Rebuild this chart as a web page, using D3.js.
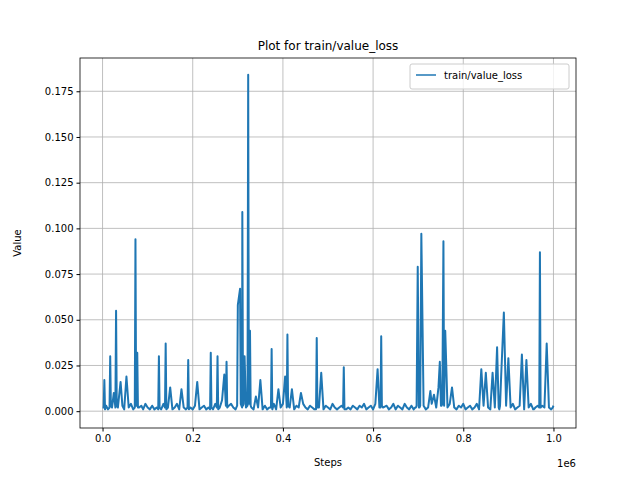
<!DOCTYPE html>
<html>
<head>
<meta charset="utf-8">
<script src="https://cdn.jsdelivr.net/npm/d3@7"></script>
<style>
body { margin: 0; background: #fff; }
text { font-family: "DejaVu Sans", sans-serif; }
</style>
</head>
<body>
<svg id="chart" width="640" height="480"></svg>
<script>
// steps in units of 1e6
const steps = [0, .004, .008, .012, .017, .021, .025, .03, .034, .04, .044, .048, .053, .058, .063, .068, .073, .077, .081, .086, .09, .095, .1, .105, .11, .115, .12, .125, .13, .135, .14, .145, .15, .155, .16, .165, .17, .175, .18, .185, .19, .195, .2, .205, .21, .215, .22, .225, .23, .235, .24, .245, .25, .255, .26, .265, .27, .275, .28, .285, .29, .295, .3, .305, .308, .31, .313, .315, .318, .323, .327, .33, .335, .34, .345, .35, .355, .36, .365, .37, .375, .38, .385, .39, .395, .4, .405, .41, .415, .42, .425, .43, .435, .44, .445, .45, .455, .46, .465, .47, .475, .48, .485, .49, .495, .5, .505, .51, .515, .52, .525, .53, .535, .54, .545, .55, .555, .56, .565, .57, .575, .58, .585, .59, .595, .6, .605, .61, .614, .618, .622, .63, .635, .64, .645, .65, .655, .66, .665, .67, .675, .68, .685, .69, .695, .699, .703, .707, .712, .717, .722, .727, .73, .735, .74, .745, .748, .752, .756, .76, .765, .77, .775, .78, .785, .79, .795, .8, .805, .81, .815, .82, .825, .83, .835, .84, .845, .85, .855, .86, .865, .87, .875, .88, .884, .89, .895, .9, .905, .91, .915, .92, .925, .93, .935, .94, .945, .95, .955, .96, .965, .97, .975, .98, .985, .99, .995, 1.0];
const values = [.002, .017, .003, .001, .03, .002, .01, .055, .002, .016, .003, .001, .019, .002, .004, .001, .094, .032, .002, .003, .001, .004, .002, .001, .003, .001, .002, .03, .001, .004, .037, .002, .013, .001, .002, .004, .001, .012, .002, .001, .028, .002, .001, .003, .016, .001, .002, .003, .001, .002, .032, .001, .004, .03, .002, .006, .02, .027, .003, .004, .002, .001, .058, .067, .003, .109, .004, .03, .002, .184, .044, .002, .001, .008, .002, .017, .001, .003, .001, .002, .034, .004, .001, .012, .002, .004, .019, .042, .002, .012, .001, .003, .002, .01, .004, .002, .001, .003, .002, .001, .04, .002, .021, .001, .003, .002, .001, .004, .002, .001, .002, .003, .024, .001, .002, .001, .003, .002, .001, .003, .002, .004, .001, .002, .003, .001, .004, .023, .002, .041, .002, .003, .001, .002, .004, .001, .003, .002, .001, .004, .002, .001, .003, .001, .002, .079, .002, .097, .003, .001, .002, .011, .004, .009, .002, .013, .027, .003, .093, .044, .002, .004, .013, .002, .001, .003, .002, .004, .001, .002, .003, .001, .002, .004, .001, .023, .003, .021, .002, .001, .021, .002, .035, .001, .019, .054, .003, .029, .002, .004, .001, .002, .003, .031, .001, .028, .002, .004, .001, .002, .003, .087, .003, .002, .037, .002, .001, .003, .002, .001, .002, .033];
// low readings logged close beside the spikes
const extraSteps = [.0025, .0055, .0155, .0185, .0285, .0315, .0715, .0745, .0755, .0785, .1235, .1265, .1385, .1415, .1885, .1915, .2385, .2415, .2535, .2565, .2735, .2765, .2985, .3065, .3095, .3115, .3215, .3245, .3285, .3735, .3765, .4085, .4115, .4735, .4765, .5335, .5365, .6165, .6195, .6935, .6965, .7015, .7045, .7505, .7535, .7575, .8785, .8815, .9535, .9565, .9685, .9715, .9985];
const extraValues = [.002, .001, .002, .003, .002, .003, .002, .003, .003, .002, .001, .002, .002, .001, .002, .001, .001, .002, .002, .001, .003, .002, .003, .004, .002, .003, .003, .004, .003, .002, .001, .002, .003, .001, .002, .002, .001, .002, .003, .002, .003, .002, .003, .003, .004, .003, .002, .003, .002, .001, .002, .002, .002];
const xTicks = [0, 0.2, 0.4, 0.6, 0.8, 1.0];
const yTicks = [0, 0.025, 0.05, 0.075, 0.1, 0.125, 0.15, 0.175];

const pts = steps.map((s, i) => [s, values[i]])
    .concat(extraSteps.map((s, i) => [s, extraValues[i]]))
    .sort((a, b) => a[0] - b[0]);

const svg = d3.select("#chart");
const m = {left: 80, right: 576, top: 58, bottom: 428};

const x = d3.scaleLinear().domain([-0.05, 1.05]).range([m.left, m.right]);
const y = d3.scaleLinear().domain([-0.0092, 0.1932]).range([m.bottom, m.top]);

// grid
svg.append("g").selectAll("line").data(xTicks).join("line")
    .attr("x1", d => x(d)).attr("x2", d => x(d))
    .attr("y1", m.top).attr("y2", m.bottom)
    .attr("stroke", "#b0b0b0").attr("stroke-width", 0.8);
svg.append("g").selectAll("line").data(yTicks).join("line")
    .attr("y1", d => y(d)).attr("y2", d => y(d))
    .attr("x1", m.left).attr("x2", m.right)
    .attr("stroke", "#b0b0b0").attr("stroke-width", 0.8);

const line = d3.line().x(d => x(d[0])).y(d => y(d[1]));
svg.append("path").datum(pts).attr("d", line)
    .attr("fill", "none").attr("stroke", "#1f77b4").attr("stroke-width", 2)
    .attr("stroke-linejoin", "round");

svg.append("rect").attr("x", m.left).attr("y", m.top)
    .attr("width", m.right - m.left).attr("height", m.bottom - m.top)
    .attr("fill", "none").attr("stroke", "#000").attr("stroke-width", 0.8);

const xAxis = svg.append("g").attr("transform", `translate(0,${m.bottom})`)
    .call(d3.axisBottom(x).tickValues(xTicks).tickFormat(d3.format(".1f")).tickSizeOuter(0).tickSize(3.5));
const yAxis = svg.append("g").attr("transform", `translate(${m.left},0)`)
    .call(d3.axisLeft(y).tickValues(yTicks).tickFormat(d3.format(".3f")).tickSizeOuter(0).tickSize(3.5));
[xAxis, yAxis].forEach(a => {
    a.select(".domain").remove();
    a.selectAll("text").attr("font-size", 10).attr("font-family", "DejaVu Sans").attr("fill", "#000");
});

svg.append("text").attr("x", 576).attr("y", 467).attr("text-anchor", "end")
    .attr("font-size", 10).text("1e6");
svg.append("text").attr("x", 328).attr("y", 466).attr("text-anchor", "middle")
    .attr("font-size", 10).text("Steps");
svg.append("text").attr("transform", "translate(21,243) rotate(-90)").attr("text-anchor", "middle")
    .attr("font-size", 10).text("Value");
svg.append("text").attr("x", 328).attr("y", 50).attr("text-anchor", "middle")
    .attr("font-size", 12).text("Plot for train/value_loss");

// legend
const lg = svg.append("g").attr("transform", "translate(410,64)");
lg.append("rect").attr("width", 159).attr("height", 25).attr("rx", 2)
    .attr("fill", "#fff").attr("fill-opacity", 0.8).attr("stroke", "#ccc");
lg.append("line").attr("x1", 6).attr("x2", 26).attr("y1", 11).attr("y2", 11)
    .attr("stroke", "#1f77b4").attr("stroke-width", 1.5);
lg.append("text").attr("x", 34).attr("y", 15).attr("font-size", 10).text("train/value_loss");
</script>
</body>
</html>
